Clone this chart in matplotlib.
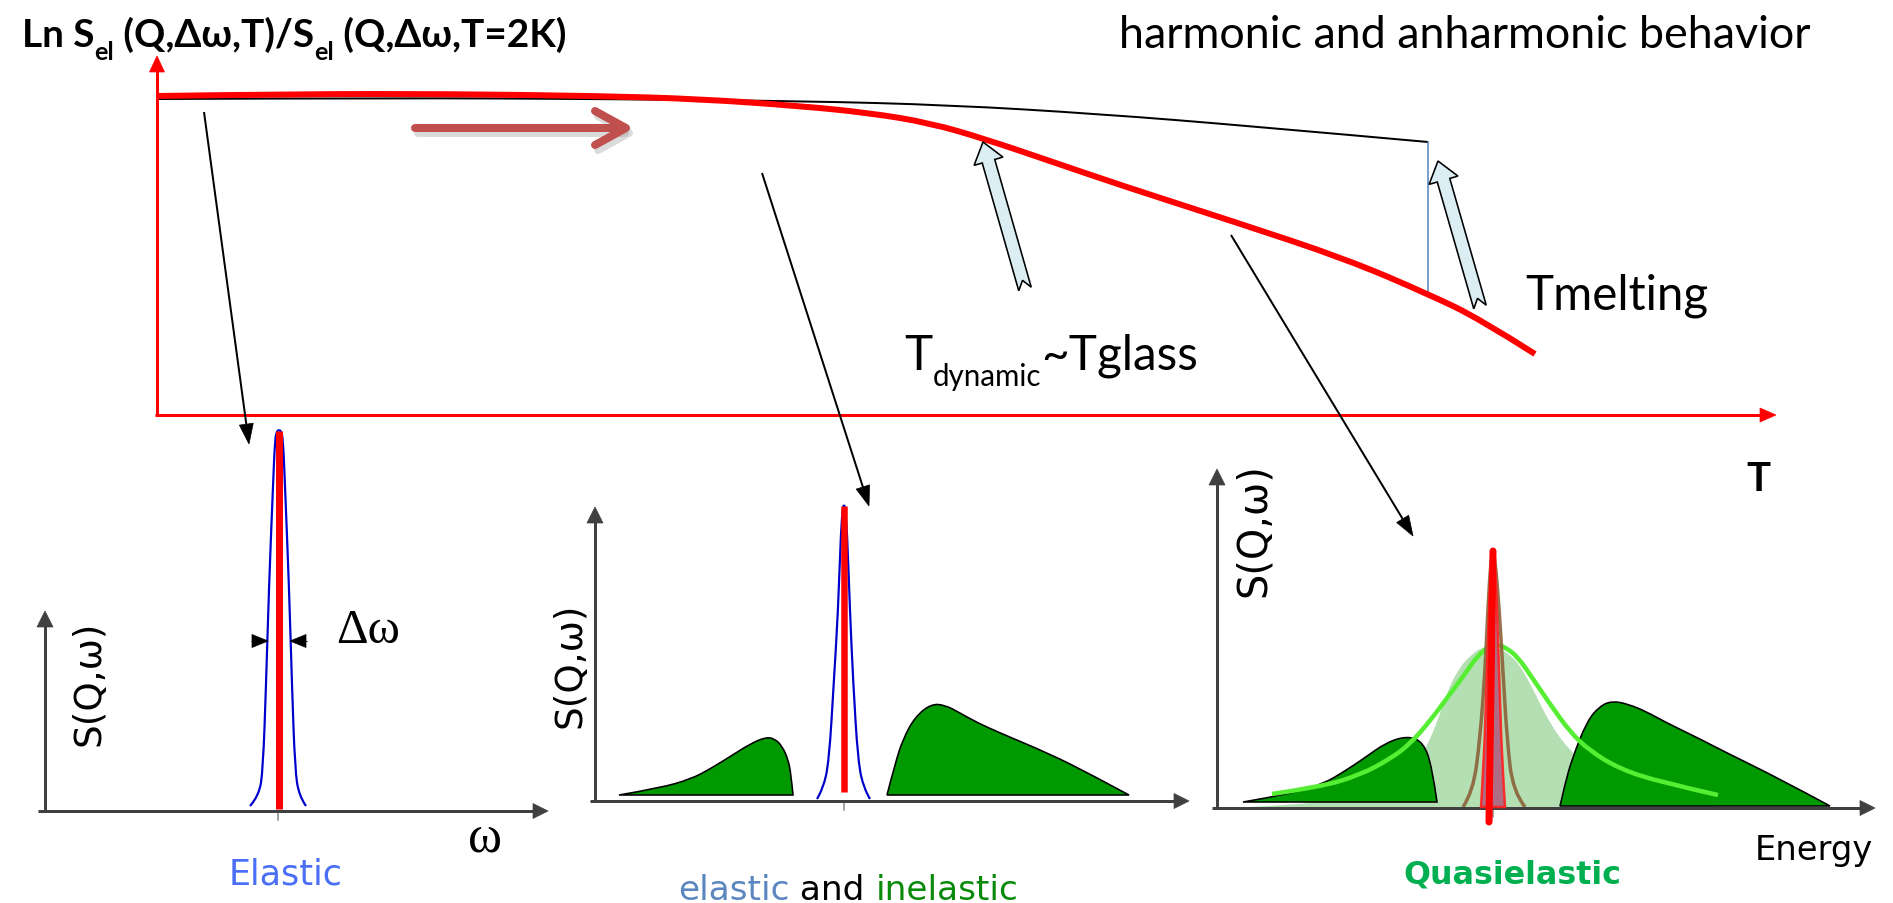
import numpy as np
import matplotlib
matplotlib.use("Agg")
import matplotlib.pyplot as plt
from matplotlib.patches import Polygon, PathPatch
from matplotlib.path import Path

W, H = 1893, 904

# ------------------------------------------------------------------
# Values (reference pixel coordinates)
# ------------------------------------------------------------------
# top panel: ln of normalised elastic intensity vs temperature
anh_T = [157, 300, 450, 600, 700, 800, 870, 930, 985, 1050, 1123, 1235, 1346, 1428, 1480, 1535]
anh_S = [97, 95, 95, 97, 100, 107, 114, 124, 140, 162, 187, 223, 260, 295, 320, 355]
harm_T = [157, 400, 600, 800, 950, 1100, 1250, 1428]
harm_S = [100, 99, 100, 102, 106, 115, 127, 143]
melt_T = [1428, 1428]
melt_S = [143, 295]

# panel 1 (elastic): resolution function
p1_res_x = [250, 259, 263, 266, 269, 273, 275, 277, 279, 281, 283, 285, 289, 292, 295, 299, 306]
p1_res_y = [807, 797, 770, 687, 587, 487, 440, 432, 431, 432, 440, 487, 587, 687, 770, 797, 807]

# panel 2 (elastic and inelastic)
p2_res_x = [817, 823, 829, 834, 838, 841, 843, 844, 845, 847, 850, 853, 858, 864, 870]
p2_res_y = [800, 790, 763, 680, 613, 530, 508, 506, 508, 530, 613, 680, 763, 790, 800]
p2_left_x = [619, 660, 691, 710, 731, 750, 766, 775, 782, 788, 791, 793]
p2_left_y = [796, 789, 780, 770, 757, 745, 738, 740, 747, 760, 775, 796]
p2_right_x = [887, 895, 903, 915, 931, 945, 960, 976, 1000, 1050, 1090, 1129]
p2_right_y = [796, 765, 740, 718, 705, 706, 714, 723, 734, 755, 775, 796]

# panel 3 (quasielastic)
p3_left_x = [1243, 1290, 1323, 1345, 1363, 1387, 1408, 1423, 1432, 1437]
p3_left_y = [803, 795, 785, 772, 760, 743, 737, 743, 767, 803]
p3_right_x = [1560, 1565, 1572, 1587, 1600, 1612, 1628, 1647, 1665, 1700, 1725, 1780, 1830]
p3_right_y = [807, 785, 760, 722, 707, 702, 705, 713, 723, 740, 753, 780, 807]
p3_qe_x = [1250, 1330, 1390, 1420, 1435, 1448, 1460, 1470, 1482, 1497, 1512, 1522, 1533, 1550, 1570, 1600, 1650, 1720]
p3_qe_y = [808, 804, 790, 760, 730, 690, 668, 657, 648, 648, 657, 670, 690, 725, 752, 780, 800, 808]
p3_lor_x = [1272, 1320, 1360, 1390, 1410, 1430, 1450, 1465, 1478, 1490, 1497, 1505, 1518, 1533, 1550, 1570, 1590, 1620, 1660, 1718]
p3_lor_y = [795, 788, 776, 760, 745, 722, 695, 675, 656, 647, 646, 648, 658, 680, 705, 733, 752, 770, 783, 796]
p3_res_x = [1463, 1473, 1480, 1485, 1488, 1491, 1493, 1495, 1499, 1503, 1507, 1513, 1525]
p3_res_y = [808, 793, 740, 673, 607, 560, 553, 560, 607, 673, 740, 793, 808]
p3_el_x = [1481, 1484, 1486, 1488, 1490, 1492, 1493, 1494, 1496, 1498, 1500, 1502, 1505]
p3_el_y = [808, 760, 700, 640, 580, 556, 552, 556, 580, 640, 700, 760, 808]

# text labels
title_runs = ["Ln S", "el", " (Q,\u0394\u03c9,T)/S", "el", " (Q,\u0394\u03c9,T=2K)"]
header_text = "harmonic and anharmonic behavior"
tdyn_runs = ["T", "dynamic", "~Tglass"]
tmelt_text = "Tmelting"
t_axis_text = "T"
s_label = "S(Q,\u03c9)"
dw_text = "\u0394\u03c9"
omega_text = "\u03c9"
elastic_text = "Elastic"
mixed_runs = ["elastic", " and ", "inelastic"]
quasi_text = "Quasielastic"
energy_text = "Energy"

# ------------------------------------------------------------------
fig = plt.figure(figsize=(W / 100, H / 100), dpi=100)
ax = fig.add_axes([0, 0, 1, 1])
ax.set_xlim(0, W)
ax.set_ylim(H, 0)
ax.axis("off")
renderer = fig.canvas.get_renderer()
PX = 0.72  # points per pixel

CAL = ["Lato", "DejaVu Sans"]
COMIC = ["DejaVu Sans"]
SERIF = ["Liberation Serif", "DejaVu Serif"]


def smooth_path(xs, ys, closed=False):
    p = np.column_stack([xs, ys]).astype(float)
    n = len(p)
    verts = [p[0]]
    codes = [Path.MOVETO]
    if n == 2:
        verts.append(p[1])
        codes.append(Path.LINETO)
    for i in range(1, n - 1):
        end = p[i + 1] if i == n - 2 else (p[i] + p[i + 1]) / 2
        verts += [p[i], end]
        codes += [Path.CURVE3, Path.CURVE3]
    if closed:
        verts.append(p[0])
        codes.append(Path.CLOSEPOLY)
    return Path(verts, codes)


def sline(xs, ys, color, lw, z=4, alpha=1.0, cap="butt"):
    ax.add_patch(PathPatch(smooth_path(xs, ys), facecolor="none", edgecolor=color,
                           lw=lw * PX, zorder=z, alpha=alpha, capstyle=cap,
                           joinstyle="round"))


def sfill(xs, ys, face, edge="black", lw=1.6, z=3, alpha=1.0):
    ax.add_patch(PathPatch(smooth_path(xs, ys, closed=True), facecolor=face,
                           edgecolor=edge, lw=lw * PX, zorder=z, alpha=alpha))


def measure(s, fs, weight="normal", family=CAL):
    t1 = ax.text(0, 0, s + "|", fontsize=fs, fontweight=weight, family=family)
    t2 = ax.text(0, 0, "|", fontsize=fs, fontweight=weight, family=family)
    w = t1.get_window_extent(renderer).width - t2.get_window_extent(renderer).width
    t1.remove()
    t2.remove()
    return w


def rich(x, y, runs, width, family=CAL, base=30):
    # runs: (text, scale, drop_em, color, weight)
    tot = sum(measure(s, base * sc, wt, family) for s, sc, dr, c, wt in runs)
    fs = base * width / tot
    cx = x
    for s, sc, dr, c, wt in runs:
        ax.text(cx, y + dr * fs / PX, s, fontsize=fs * sc, color=c, fontweight=wt,
                family=family, ha="left", va="baseline")
        cx += measure(s, fs * sc, wt, family)


def vlabel(cx, cy, s, length, family=COMIC, color="black"):
    base = 30
    fs = base * length / measure(s, base, "normal", family)
    ax.text(cx, cy, s, fontsize=fs, rotation=90, ha="center", va="center",
            family=family, color=color)


def arrow(x0, y0, x1, y1, color, lw, hl, hw, z=5):
    d = np.array([x1 - x0, y1 - y0], float)
    L = np.hypot(*d)
    u = d / L
    n = np.array([-u[1], u[0]])
    base = np.array([x1, y1]) - u * hl
    ax.plot([x0, base[0] + u[0] * 2], [y0, base[1] + u[1] * 2], color=color,
            lw=lw * PX, solid_capstyle="butt", zorder=z)
    pts = [(x1, y1), tuple(base + n * hw / 2), tuple(base - n * hw / 2)]
    ax.add_patch(Polygon(pts, closed=True, facecolor=color, edgecolor=color,
                         lw=0.5, zorder=z))


def block_arrow(tail, tip, sw=13, hw=30, hl=20, notch=9):
    tail = np.array(tail, float)
    tip = np.array(tip, float)
    d = tip - tail
    u = d / np.hypot(*d)
    n = np.array([-u[1], u[0]])
    hb = tip - u * hl
    pts = [tip, hb + n * hw / 2, hb + n * sw / 2, tail + n * sw / 2, tail + u * notch,
           tail - n * sw / 2, hb - n * sw / 2, hb - n * hw / 2]
    ax.add_patch(Polygon(pts, closed=True, facecolor="#DAEEF3", edgecolor="black",
                         lw=1.6 * PX, joinstyle="miter", zorder=6))


# ------------------------------------------------------------------
# top panel
# ------------------------------------------------------------------
arrow(157, 417, 157, 57, "#FF0000", 3, 16, 15)
arrow(155, 416, 1776, 416, "#FF0000", 3, 16, 14)

sline(harm_T, harm_S, "black", 2, z=4)
sline(anh_T, anh_S, "#FF0000", 6, z=5)
ax.plot(melt_T, melt_S, color="#4F81BD", lw=1.5 * PX, zorder=4)

# heating arrow (with soft shadow)
for dx, dy, col, al in [(3, 5, "#999999", 0.35), (0, 0, "#C0504D", 1.0)]:
    ax.plot([415 + dx, 622 + dx], [129 + dy, 129 + dy], color=col, alpha=al,
            lw=8 * PX, solid_capstyle="round", zorder=5)
    ax.plot([595 + dx, 626 + dx, 595 + dx], [112 + dy, 129 + dy, 146 + dy], color=col,
            alpha=al, lw=8 * PX, solid_capstyle="round", solid_joinstyle="round", zorder=5)

block_arrow((1025, 290), (983, 143))
block_arrow((1480, 308), (1438, 162))

# connectors to the spectra
arrow(204, 113, 249, 445, "black", 2, 20, 14)
arrow(762, 174, 869, 507, "black", 2, 20, 14)
arrow(1231, 236, 1413, 537, "black", 2, 20, 14)

# texts of top panel
rich(22, 47, [(title_runs[0], 1.0, 0.0, "black", "bold"),
              (title_runs[1], 0.65, 0.33, "black", "bold"),
              (title_runs[2], 1.0, 0.0, "black", "bold"),
              (title_runs[3], 0.65, 0.33, "black", "bold"),
              (title_runs[4], 1.0, 0.0, "black", "bold")], width=545)
rich(1119, 48, [(header_text, 1.0, 0.0, "black", "normal")], width=692)
rich(904, 370, [(tdyn_runs[0], 1.0, 0.0, "black", "normal"),
                (tdyn_runs[1], 0.62, 0.33, "black", "normal"),
                (tdyn_runs[2], 1.0, 0.0, "black", "normal")], width=294)
rich(1525, 310, [(tmelt_text, 1.0, 0.0, "black", "normal")], width=183)
rich(1746, 491, [(t_axis_text, 1.0, 0.0, "black", "bold")], width=24)

# ------------------------------------------------------------------
# lower panels: axes
# ------------------------------------------------------------------
AX = "#404040"
arrow(45, 813, 45, 612, AX, 3, 16, 16)
arrow(38, 812, 548, 812, AX, 3, 15, 15)
arrow(595, 803, 595, 508, AX, 3, 16, 16)
arrow(590, 802, 1189, 802, AX, 3, 15, 15)
arrow(1217, 810, 1217, 470, AX, 3, 16, 16)
arrow(1212, 809, 1875, 809, AX, 3, 15, 15)
for tx, ty in [(278, 812), (844, 802), (1493, 809)]:
    ax.plot([tx, tx], [ty, ty + 9], color="#888888", lw=1.5 * PX, zorder=3)

# panel 1
sline(p1_res_x, p1_res_y, "#0000CC", 2.2, z=4)
ax.plot([279, 279], [432, 810], color="#FF0000", lw=7 * PX, solid_capstyle="butt", zorder=5)
arrow(251, 642, 268, 642, "black", 1, 16, 13)
arrow(307, 642, 290, 642, "black", 1, 16, 13)

# panel 2
sfill(p2_left_x, p2_left_y, "#009900")
sfill(p2_right_x, p2_right_y, "#009900")
sline(p2_res_x, p2_res_y, "#0000CC", 2.2, z=4)
ax.plot([844, 844], [507, 793], color="#FF0000", lw=6.5 * PX, solid_capstyle="butt", zorder=5)

# panel 3
sfill(p3_qe_x, p3_qe_y, "#B3DFB3", edge="none", lw=0, z=2)
sfill(p3_left_x, p3_left_y, "#009900")
sfill(p3_right_x, p3_right_y, "#009900")
sline(p3_lor_x, p3_lor_y, "#55EE33", 4.5, z=4)
sline(p3_res_x, p3_res_y, "#8C6239", 3.5, z=4, alpha=0.9)
sfill(p3_el_x, p3_el_y, "#B06080", edge="#FF2020", lw=2.5, z=5, alpha=0.9)
ax.plot([1493, 1489], [552, 823], color="#FF0000", lw=7 * PX, solid_capstyle="round", zorder=6)

# lower-panel texts
vlabel(89, 683, s_label, 125)
vlabel(570, 665, s_label, 125)
vlabel(1254, 530, s_label, 134)
rich(336, 643, [(dw_text, 1.0, 0.0, "black", "normal")], width=64, family=SERIF)
rich(468, 852, [(omega_text, 1.0, 0.0, "black", "normal")], width=34, family=SERIF)
rich(229, 885, [(elastic_text, 1.0, 0.0, "#4A6EF5", "normal")], width=114, family=COMIC)
rich(678, 900, [(mixed_runs[0], 1.0, 0.0, "#5B87C0", "normal"),
                (mixed_runs[1], 1.0, 0.0, "black", "normal"),
                (mixed_runs[2], 1.0, 0.0, "#0A8A0A", "normal")], width=340, family=COMIC)
rich(1403, 884, [(quasi_text, 1.0, 0.0, "#00B050", "bold")], width=218, family=COMIC)
rich(1755, 860, [(energy_text, 1.0, 0.0, "black", "normal")], width=118, family=COMIC)

fig.savefig("out.png", dpi=100, facecolor="white")
